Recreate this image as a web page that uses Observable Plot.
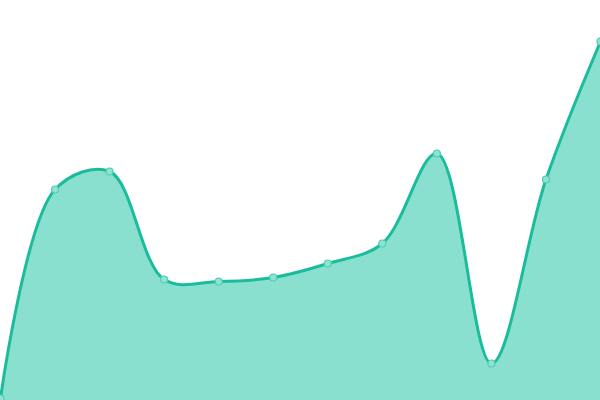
<!DOCTYPE html>
<html>
<head>
<meta charset="utf-8">
<script src="https://cdn.jsdelivr.net/npm/d3@7"></script>
<script src="https://cdn.jsdelivr.net/npm/@observablehq/plot@0.6"></script>
<style>
  html, body { margin: 0; padding: 0; background: #fff; }
  #chart svg { display: block; }
</style>
</head>
<body>
<div id="chart"></div>
<script>
const indices = [0, 1, 2, 3, 4, 5, 6, 7, 8, 9, 10, 11];
const values = [2, 211, 229, 121, 119, 123, 137, 157, 247, 37, 221, 359];

const data = indices.map((i, k) => ({ x: i, y: values[k] }));

const chart = Plot.plot({
  width: 600,
  height: 400,
  margin: 0,
  x: { domain: [0, 11], axis: null },
  y: { domain: [0, 400], axis: null },
  marks: [
    Plot.areaY(data, { x: "x", y: "y", curve: "catmull-rom", fill: "#8ae0cf" }),
    Plot.lineY(data, { x: "x", y: "y", curve: "catmull-rom", stroke: "#1abc9c", strokeWidth: 3 }),
    Plot.dot(data, { x: "x", y: "y", r: 3.5, fill: "#8ee3d2", stroke: "#4fcdb2", strokeWidth: 1.2 })
  ]
});
document.getElementById("chart").appendChild(chart);
</script>
</body>
</html>
